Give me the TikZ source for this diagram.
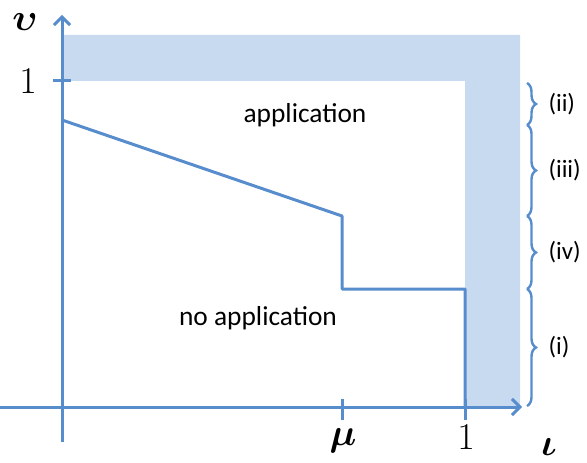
\documentclass[tikz,border=0pt]{standalone}
\usepackage{amsmath}
\usepackage{fontspec}
\setmainfont{Carlito}
\usepackage{tikz}
\usetikzlibrary{positioning, calc, arrows.meta, decorations.pathreplacing}
\definecolor{axisblue}{RGB}{88,141,205}
\definecolor{bandblue}{RGB}{200,218,240}
\newcommand{\biglab}[1]{\scalebox{2.2}{\LARGE$#1$}}

\begin{document}
\begin{tikzpicture}[x=1bp, y=-1bp, line width=3bp, color=axisblue,
    brc/.style={decorate, decoration={brace, amplitude=9bp}, line width=2.4bp},
    brclabel/.style={text=black, font=\fontsize{25}{29}\selectfont, anchor=west},
    axlabel/.style={text=black, inner sep=0pt}]
    \useasboundingbox (0,0) rectangle (587,463);

    % shaded band
    \fill[bandblue] (62,35) -- (520,35) -- (520,407) -- (465,407) -- (465,81) -- (62,81) -- cycle;

    % axes
    \coordinate (O) at (62,407);
    \coordinate (xs) at (0,407);
    \coordinate (xe) at (522,407);
    \coordinate (ys) at (62,442);
    \coordinate (ye) at (62,15);
    \draw[-{Straight Barb[length=8bp, width=16bp]}] (xs) -- (xe);
    \draw[-{Straight Barb[length=8bp, width=16bp]}] (ys) -- (ye);

    % ticks
    \coordinate (mu) at (342,407);
    \coordinate (one) at (465,407);
    \coordinate (vone) at (62,81);
    \draw ($(vone)+(-9,0)$) -- ($(vone)+(9,0)$);
    \draw ($(mu)+(0,-8)$) -- ($(mu)+(0,13)$);
    \draw ($(one)+(0,-8)$) -- ($(one)+(0,13)$);

    \node[axlabel] (ulab) at (25,22) {\biglab{\boldsymbol{\upsilon}}};
    \node[axlabel] (vonelab) at (28,81) {\biglab{1}};
    \node[axlabel] (mulab) at (343,441) {\biglab{\boldsymbol{\mu}}};
    \node[axlabel] (onelab) at (466,437) {\biglab{1}};
    \node[axlabel] (ilab) at (549,447) {\biglab{\boldsymbol{\iota}}};

    % boundary
    \coordinate (b0) at (62,120);
    \coordinate (b1) at (342,216);
    \coordinate (b2) at (342,289);
    \coordinate (b3) at (465,289);
    \draw[line join=round] (b0) -- (b1) -- (b2) -- (b3) -- (one);

    % region labels
    \node[text=black, font=\fontsize{27.5}{31}\selectfont] (app) at (305,115) {application};
    \node[text=black, font=\fontsize{27.5}{31}\selectfont] (noapp) at (258,318) {no application};

    % braces
    \coordinate (r0) at (527,83);
    \coordinate (r1) at (527,125);
    \coordinate (r2) at (527,216);
    \coordinate (r3) at (527,289);
    \coordinate (r4) at (527,406);
    \draw[brc] (r0) -- (r1) node[midway, right=17bp, brclabel] (ii) {(ii)};
    \draw[brc] (r1) -- (r2) node[midway, right=17bp, brclabel] (iii) {(iii)};
    \draw[brc] (r2) -- (r3) node[midway, right=17bp, brclabel] (iv) {(iv)};
    \draw[brc] (r3) -- (r4) node[midway, right=17bp, brclabel] (i) {(i)};
\end{tikzpicture}
\end{document}
